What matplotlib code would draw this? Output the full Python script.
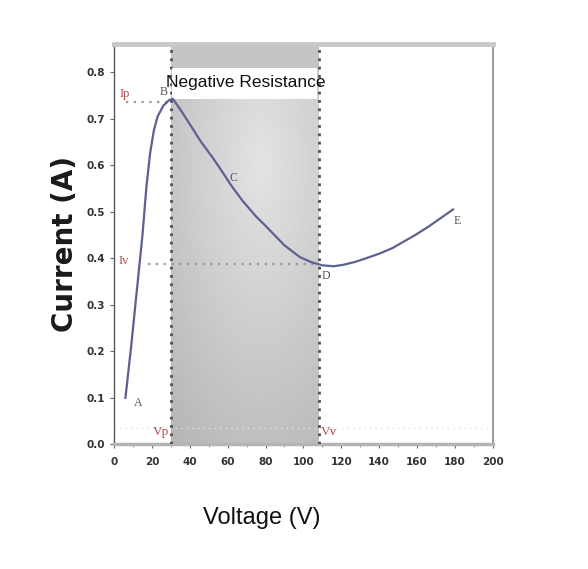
import matplotlib
matplotlib.use('Agg')
import matplotlib.pyplot as plt
import numpy as np
from matplotlib.patches import Rectangle
from matplotlib.ticker import MultipleLocator, FormatStrFormatter

# Curva I-V
voltaje = [6, 9, 12, 15, 17, 19, 21, 23, 26, 29, 31, 35, 41, 46, 52, 57, 62, 68, 75,
           80, 84, 90, 98, 104, 110, 116, 121, 127, 133, 140, 147, 153, 159, 166, 172, 179]
corriente = [0.10, 0.21, 0.33, 0.45, 0.55, 0.625, 0.675, 0.705, 0.728, 0.740, 0.743, 0.72,
             0.682, 0.65, 0.617, 0.587, 0.556, 0.523, 0.49, 0.47, 0.453, 0.428, 0.403, 0.392,
             0.385, 0.383, 0.386, 0.392, 0.40, 0.41, 0.422, 0.436, 0.45, 0.468, 0.485, 0.505]

# Puntos característicos
v_pico, v_valle = 30, 108
i_pico, i_valle = 0.736, 0.388
puntos = ['A', 'B', 'C', 'D', 'E']
puntos_v = [12.5, 26.0, 63, 112, 181]
puntos_i = [0.088, 0.757, 0.572, 0.362, 0.48]

fig = plt.figure(figsize=(5.88, 5.69), dpi=100)
ax = fig.add_axes([0.194, 0.219, 0.644, 0.703])
ax.set_xlim(0, 200)
ax.set_ylim(0, 0.86)

# Zona sombreada con degradado
vv, ii = np.meshgrid(np.linspace(v_pico, v_valle, 200), np.linspace(0, 0.86, 200))
r = np.sqrt(((vv - 78) / 55) ** 2 + ((ii - 0.6) / 0.55) ** 2)
grad = np.clip(0.89 - 0.13 * r, 0, 1)
ax.imshow(grad, extent=[v_pico, v_valle, 0, 0.86], origin='lower', aspect='auto',
          cmap='gray', vmin=0, vmax=1, zorder=0)
ax.axhspan(0.80, 0.86, xmin=v_pico / 200, xmax=v_valle / 200, color='#c4c4c4', zorder=0.5, lw=0)

for v in (v_pico, v_valle):
    ax.axvline(v, color='#505050', lw=2, ls=(0, (1, 2)), zorder=3)

# Líneas punteadas Ip, Iv
ax.plot([6.5, 29], [i_pico, i_pico], color='#9a9a9a', lw=1.6, ls=(0, (1, 2.5)), zorder=2)
ax.plot([18, v_valle], [i_valle, i_valle], color='#9a9a9a', lw=1.6, ls=(0, (1, 2.5)), zorder=2)
ax.axhline(0.035, color='#e4e4e4', lw=1, ls=(0, (1, 3)), zorder=1)

# Recuadro del título
ax.add_patch(Rectangle((30.8, 0.742), 76.6, 0.068, facecolor='white', edgecolor='none', zorder=4))
ax.text((v_pico + v_valle) / 2 + 0.3, 0.777, 'Negative Resistance', ha='center', va='center',
        fontsize=12.5, family='Liberation Sans', color='#111111', zorder=5)

ax.plot(voltaje, corriente, color='#5d6190', lw=1.6, zorder=6)

for p, v, i in zip(puntos, puntos_v, puntos_i):
    ax.text(v, i, p, fontsize=8.5, family='Liberation Serif', color='#555555',
            ha='center', va='center', zorder=7)

rojo = '#b5484f'
ax.text(5.8, 0.753, 'Ip', fontsize=9, family='Liberation Serif', color=rojo, ha='center', va='center')
ax.text(5.3, 0.395, 'Iv', fontsize=9, family='Liberation Serif', color=rojo, ha='center', va='center')
ax.text(25, 0.026, 'Vp', fontsize=9.5, family='Liberation Serif', color=rojo, ha='center', va='center', zorder=7)
ax.text(113.5, 0.026, 'Vv', fontsize=9.5, family='Liberation Serif', color=rojo, ha='center', va='center', zorder=7)

# Ejes
ax.spines['top'].set_color('#c8c8c8')
ax.spines['top'].set_linewidth(3.5)
ax.spines['bottom'].set_color('#b4b4b4')
ax.spines['bottom'].set_linewidth(2.5)
ax.spines['left'].set_color('#555555')
ax.spines['left'].set_linewidth(1.0)
ax.spines['right'].set_color('#8a8a8a')
ax.spines['right'].set_linewidth(1.2)

ax.xaxis.set_major_locator(MultipleLocator(20))
ax.xaxis.set_minor_locator(MultipleLocator(10))
ax.yaxis.set_major_locator(MultipleLocator(0.1))
ax.yaxis.set_major_formatter(FormatStrFormatter('%.1f'))
ax.tick_params(which='major', direction='out', length=3, width=0.8, colors='#666666',
               labelsize=7.5, labelcolor='#333333')
ax.tick_params(which='minor', direction='out', length=2, width=0.6, colors='#888888')
ax.tick_params(axis='x', pad=6)
for lbl in ax.get_xticklabels() + ax.get_yticklabels():
    lbl.set_fontweight('bold')

fig.text(0.111, 0.572, 'Current (A)', rotation=90, ha='center', va='center',
         fontsize=20, fontweight='heavy', color='#1a1a1a')
fig.text(0.445, 0.090, 'Voltage (V)', ha='center', va='center', fontsize=17,
         family='Liberation Sans', color='#111111')

fig.savefig('out.png', dpi=100)
